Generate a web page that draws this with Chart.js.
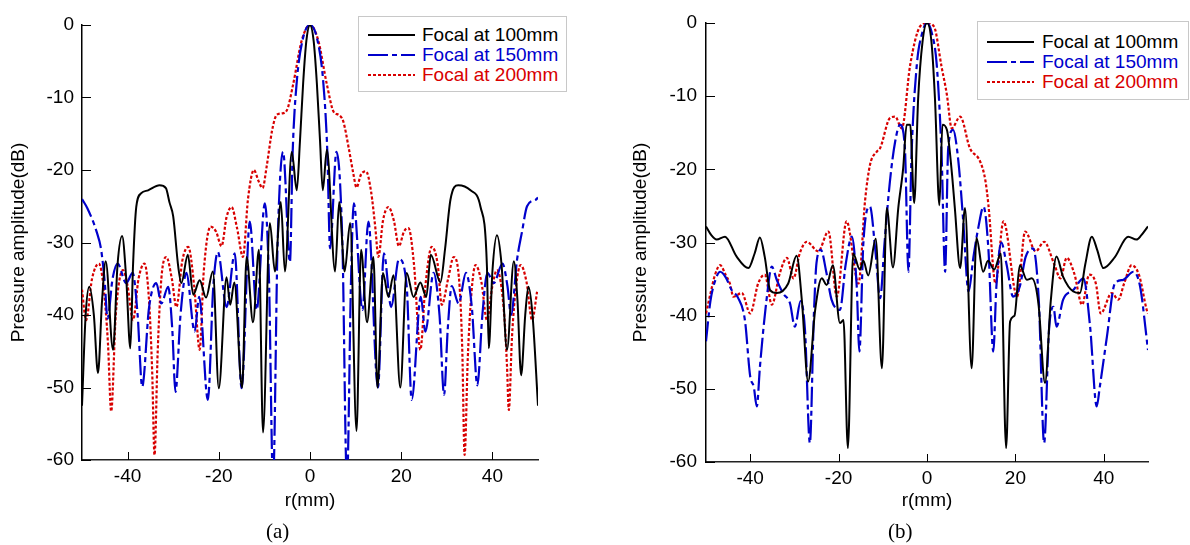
<!DOCTYPE html>
<html>
<head>
<meta charset="utf-8">
<script src="https://cdn.jsdelivr.net/npm/chart.js@4.4.0/dist/chart.umd.min.js"></script>
<style>
  body { margin:0; background:#fff; width:1190px; height:545px; overflow:hidden; position:relative; font-family:"Liberation Sans", Arial, sans-serif; }
  .panel { position:absolute; top:0; width:595px; height:545px; }
  .legend { position:absolute; border:1px solid #c8c8c8; background:#fff; box-sizing:border-box; }
  .row { position:absolute; height:20px; line-height:20px; font-size:19px; white-space:nowrap; }
  .row svg { position:absolute; top:7px; }
  .cap { position:absolute; font-family:"Liberation Serif", "DejaVu Serif", serif; font-size:21px; top:519px; }
</style>
</head>
<body>
<div class="panel" style="left:0"><canvas id="chartA" width="595" height="545"></canvas></div>
<div class="panel" style="left:595px"><canvas id="chartB" width="595" height="545"></canvas></div>
<div id="legA" class="legend" style="left:358px;top:16px;width:209px;height:76px"></div>
<div id="legB" class="legend" style="left:977px;top:21px;width:212px;height:79px"></div>
<div class="cap" style="left:266px">(a)</div>
<div class="cap" style="left:888px">(b)</div>
<script>
const seriesNames = ["Focal at 100mm", "Focal at 150mm", "Focal at 200mm"];
const xTicks = [-40, -20, 0, 20, 40];
const yTicks = [0, -10, -20, -30, -40, -50, -60];

// (a) focal 100mm
const aBlackX = [-50,-49.2,-48.4,-47.4,-46.5,-45.6,-44.8,-43.2,-42.2,-41.2,-40.3,-39.4,-38.8,-38.1,-37,-35.5,-33,-31.6,-30.8,-30,-28.9,-28.2,-26.8,-25.6,-24.2,-22.8,-21.3,-20,-18.3,-17.5,-16.6,-14.9,-13.9,-12.5,-11.2,-10.3,-8.8,-7.7,-6.4,-5.5,-4,-2.9,-2.2,-1.5,-0.8,0,
  0.8,1.5,2.2,2.8,3.7,5.5,6.4,7.6,8.8,10.2,11.2,12.5,13.9,14.8,16,17.2,18.3,19.8,21.2,22.7,24.2,25.5,26.5,28.6,29.6,30.8,32.5,35.2,37.4,38.8,39.2,40,41,42,43.2,44.7,45.5,46.3,47.2,47.9,48.8,50];
const aBlackY = [-52.5,-40,-36.1,-40,-48,-38,-32.6,-44.8,-33,-29.1,-35,-44.6,-33,-25.1,-23.2,-22.8,-22.1,-22.5,-24.5,-26.4,-33.3,-35.6,-31.7,-37.2,-35.2,-37.6,-34,-50.1,-34.8,-38.6,-35.5,-50,-32,-41,-31,-56.2,-27.3,-34,-24.4,-34,-17.5,-22.8,-16,-8,-2.2,0,
  -2.2,-8,-16,-22.8,-17.2,-34,-24.4,-34,-27.3,-56,-31,-41,-32,-50,-34.2,-37.5,-34.5,-50,-34.2,-37.5,-35.5,-37.5,-31.7,-35.5,-31,-24.1,-22.1,-22.8,-25.1,-33.3,-44.6,-34,-29,-33,-44.8,-32.6,-38,-48.3,-40,-36.1,-40,-52.5];

// (a) focal 150mm
const aBlueX = [-50,-48.8,-46.8,-45.8,-45,-44.4,-43.3,-42.2,-40.3,-38.9,-37.8,-36.8,-35.3,-33.7,-32.6,-31.1,-30.2,-29.5,-28.4,-27.1,-25.3,-24.3,-22.4,-21.2,-20.2,-18.3,-16.5,-15,-13.2,-11.7,-9.9,-9,-8.1,-7.1,-5.9,-4.4,-3.8,-2.9,-1.6,0,
  1.6,2.9,3.8,4.4,5.8,7.1,8.1,9,9.6,11.5,12.8,14.9,16.2,17.8,19.5,21.2,22.3,24.3,25.3,27.1,28.4,29.4,30.2,31.1,32.6,34.2,35.5,36.7,37.8,38.9,40.3,42.2,43.3,44.1,45.4,46.5,47.6,49.5,50];
const aBlueY = [-24,-25.3,-28.5,-31,-35.6,-40.5,-35,-32.9,-35.6,-34.2,-40,-49.9,-39,-35.6,-38.4,-36.1,-42,-50.6,-40,-34.2,-42.3,-37.5,-51.7,-36,-31.3,-38.9,-31.5,-50.1,-27.1,-39.3,-24.6,-35,-63,-30,-17.5,-32.7,-17.5,-7.8,-2,0,
  -2,-7.8,-17.5,-30.8,-17.5,-30,-63,-35,-24.6,-39.3,-27.1,-50,-31.5,-38.9,-32.3,-36,-51.7,-37.5,-42.3,-34.2,-40,-51,-42,-36,-38.4,-34.2,-39,-49.7,-40,-34.2,-35.6,-32.9,-36,-40,-32.4,-28.5,-25,-24.1,-23.8];

// (a) focal 200mm
const aRedX = [-50,-49.1,-47.8,-46.3,-45.3,-44.3,-43.6,-42.6,-41,-40,-38.8,-37.6,-36.3,-35.3,-34.6,-34.1,-33.4,-32.6,-31.5,-30.3,-29.3,-28,-26.7,-25.4,-24.2,-23.3,-21.8,-20.6,-19.4,-18.3,-17.2,-16,-14.7,-13.6,-12.3,-11.3,-10.4,-9.5,-8.3,-7.3,-6.2,-5.1,-3.7,-1.8,0,
  1.8,3.7,5.2,6.3,7.3,8.5,9.5,10.2,11.2,12.3,13.4,14.3,15,16,17.2,18.4,19.5,20.6,21.6,22.8,24.2,25.3,26.7,28,28.9,30.3,31.5,32.8,33.4,33.9,34.6,35.4,36.3,37.6,38.8,40,41,42.6,43.2,43.6,44.3,45.2,46.2,47.5,48.7,49.8];
const aRedY = [-36.5,-40.7,-35,-32.9,-36,-44,-53.3,-40,-33.8,-36,-40.7,-35,-32.9,-38,-48,-59.3,-45,-35,-32,-35,-38.9,-32.5,-30.6,-36,-44.8,-34,-27.8,-28.5,-30.5,-26.5,-25.1,-28,-32,-24,-20,-21.5,-22.5,-19.5,-14.5,-12.4,-12.2,-11.8,-8.2,-2.1,0,
  -2.1,-8.2,-12,-12.4,-13.3,-17,-20.5,-22.4,-20.6,-20.2,-23,-27.8,-32,-27,-25.1,-27,-30.5,-28.5,-28,-33,-44.8,-36,-30.6,-33,-38.6,-35,-32,-36,-45,-59.3,-46,-37,-33.1,-35.5,-40.7,-36,-33.8,-40,-47,-53.1,-43,-36,-33.1,-35.5,-40.7,-36.8];

// (b) focal 100mm
const bBlackX = [-50,-48.8,-47.6,-45.7,-43.1,-40.4,-39,-37.8,-36.7,-35.5,-34,-31.4,-29.5,-28.3,-26.9,-25.3,-23.8,-22.7,-21.3,-19.7,-18.9,-17.9,-16.7,-15.2,-14.4,-13.3,-11.6,-10.2,-9.1,-7.7,-6.5,-5.4,-4.6,-3.8,-2.9,-2,-1,0,
  1,1.8,2.8,3.5,4.5,5.6,6.3,7.5,8.6,10.1,11.2,12.7,13.8,15.2,16.7,17.9,18.8,19.8,21,22.6,23.7,25.2,26.7,28,29.3,30.8,33.1,34.6,35.8,37.3,38.5,39.9,42.5,45.5,47.4,48.5,50];
const bBlackY = [-27.8,-29,-29.6,-29.2,-31.9,-33.5,-31.5,-29.3,-32,-36.5,-36.9,-35.6,-31.8,-38,-49,-39.2,-34.9,-35.8,-33.1,-41,-40.6,-58.1,-31.5,-33.7,-32.5,-34.5,-29.5,-47.2,-25.3,-33.4,-25.3,-19.9,-13.9,-13.9,-24.6,-10.3,-2.5,0,
  -2.5,-10.3,-24.9,-13.9,-14.6,-20.3,-25.3,-33.5,-25.3,-47.2,-29.4,-34,-32.5,-33.7,-31.5,-58.1,-40.8,-40,-33.1,-35.1,-34.9,-38.3,-49.2,-38,-31.9,-34.7,-36.7,-36.9,-33,-29.2,-31,-33.5,-32,-29.2,-29.6,-29,-27.8];

// (b) focal 150mm
const bBlueX = [-50,-49,-47.8,-46.8,-45.5,-44.2,-42.8,-41.2,-40,-39.2,-38.5,-37.8,-36.3,-35.1,-34,-32.5,-31,-29.9,-28.6,-27.6,-26.5,-25.6,-25,-24,-22.8,-21.6,-19.7,-18.4,-17,-15.9,-15.3,-14.4,-12.9,-11.7,-10.6,-9.6,-8.4,-7.2,-6.1,-5,-4.2,-3.5,-2.3,-1.1,0,
  1.1,2.2,3.3,4.1,4.8,5.9,7.1,8.2,9.4,10.5,11.6,12.8,13.9,15,15.7,16.8,18,19.5,21,22.3,24,25.3,26.5,27.6,28.6,29.3,30.8,33.1,35.4,36.9,38.4,39.1,40.7,42.5,44.4,46.7,48.2,50];
const bBlueY = [-43.5,-38,-35,-34,-34.8,-36.5,-37.5,-40.6,-48.3,-49.7,-52.4,-47,-37.8,-33.3,-35.1,-37,-38.3,-41.5,-38,-42,-57.4,-40,-32.8,-31,-34,-37.8,-39.2,-33,-29.2,-36,-44.9,-30.1,-25.1,-31,-37.6,-30,-21.7,-16.2,-13.9,-17.1,-34,-18,-5.7,-1.4,0,
  -1.4,-5.7,-18,-34,-17.1,-14.6,-18.9,-27.1,-36.7,-32,-28,-25.1,-31,-44.9,-36,-30,-33,-37.4,-36,-32,-30.8,-38,-57.4,-42,-38.8,-41.5,-37.8,-36.5,-34.9,-41.5,-52.4,-49.7,-42.9,-35.6,-35.1,-34,-36,-44.7];

// (b) focal 200mm
const bRedX = [-50,-49,-48,-46.8,-45.5,-44.6,-43.8,-41.9,-40,-38.2,-36.7,-35.1,-33.3,-31.7,-30.2,-28.8,-27.2,-24.6,-22.3,-20.4,-18.2,-15.5,-14,-12.9,-11.4,-10.6,-8.4,-7.2,-5.7,-3.8,-1.6,0,
  1.6,3.3,4.5,5.6,7.5,9.7,12,13.2,13.9,15.5,17.3,20.4,22.2,24.6,26.5,28.8,30.2,31.6,33.3,35.1,36.7,38.2,39.3,41.8,43.3,44.6,46.3,48,49.7,50];
const bRedY = [-39.7,-37,-34.5,-33.1,-34.5,-35.6,-37.4,-36.9,-39.7,-35.6,-34.4,-38.5,-34.2,-32.1,-34.9,-31.5,-29.9,-31.2,-28.5,-37.4,-27.1,-35.6,-24.2,-19.4,-17.6,-17.1,-13,-12.8,-14.4,-5.7,-0.5,0,
  -0.5,-6,-9.8,-14.4,-12.8,-17.1,-18.9,-21.5,-24.9,-35.6,-27.1,-37.4,-28.5,-31.2,-29.9,-33,-34.9,-32.1,-34.2,-38.5,-34.4,-35.6,-39.7,-36.9,-37.8,-35.6,-33.1,-34.5,-39.2,-39.7];

const colors = ["#000000", "#0000cc", "#d80000"];
const dashes = [[], [20, 4, 5, 4], [3, 2]];
const widths = [2, 2.2, 2.2];
const FONT = "'Liberation Sans', Arial, sans-serif";

function pts(xs, ys) {
  return xs.map((x, i) => ({x: x, y: ys[i]}));
}

function makeSets(series) {
  return series.map((s, i) => ({
    label: seriesNames[i],
    data: pts(s[0], s[1]),
    borderColor: colors[i],
    borderWidth: widths[i],
    borderDash: dashes[i],
    pointRadius: 0,
    fill: false,
    cubicInterpolationMode: 'monotone'
  }));
}

// ticks point into the plot, like the original figure
const innerTicks = {
  id: 'innerTicks',
  afterDraw(chart) {
    const {ctx, chartArea: a, scales: {x, y}} = chart;
    ctx.save();
    ctx.strokeStyle = '#000';
    ctx.lineWidth = 1;
    ctx.beginPath();
    x.ticks.forEach(t => {
      const px = Math.round(x.getPixelForValue(t.value)) + 0.5;
      ctx.moveTo(px, a.bottom);
      ctx.lineTo(px, a.bottom - 8);
    });
    y.ticks.forEach(t => {
      const py = Math.round(y.getPixelForValue(t.value)) + 0.5;
      ctx.moveTo(a.left, py);
      ctx.lineTo(a.left + 9, py);
    });
    ctx.stroke();
    ctx.restore();
  }
};

function makeChart(id, series, g) {
  new Chart(document.getElementById(id), {
    type: 'line',
    data: {datasets: makeSets(series)},
    plugins: [innerTicks],
    options: {
      responsive: false,
      animation: false,
      devicePixelRatio: 1,
      layout: {padding: {top: g.top, right: g.right, left: 0, bottom: 0}},
      plugins: {legend: {display: false}, tooltip: {enabled: false}},
      scales: {
        x: {
          type: 'linear', min: -50, max: 50,
          afterBuildTicks: s => { s.ticks = xTicks.map(v => ({value: v})); },
          afterFit: s => { s.height = g.xh; },
          grid: {display: false, drawTicks: false},
          border: {display: true, color: '#222', width: 1.5},
          ticks: {padding: 5, color: '#000', font: {family: FONT, size: 19}, callback: v => String(v)},
          title: {display: true, text: 'r(mm)', color: '#000', font: {family: FONT, size: 19}, padding: {top: 0, bottom: 33}}
        },
        y: {
          type: 'linear', min: -60, max: 0,
          afterBuildTicks: s => { s.ticks = yTicks.map(v => ({value: v})); },
          afterFit: s => { s.width = g.yw; },
          grid: {display: false, drawTicks: false},
          border: {display: true, color: '#000', width: 1.5},
          ticks: {padding: g.tp, color: '#000', font: {family: FONT, size: 19}, callback: v => String(v)},
          title: {display: true, text: 'Pressure amplitude(dB)', color: '#000', font: {family: FONT, size: 19}, padding: {top: g.yt, bottom: 0}}
        }
      }
    }
  });
}

makeChart('chartA', [[aBlackX, aBlackY], [aBlueX, aBlueY], [aRedX, aRedY]],
  {top: 25, right: 57, xh: 85, yw: 82, tp: 8, yt: 7});
makeChart('chartB', [[bBlackX, bBlackY], [bBlueX, bBlueY], [bRedX, bRedY]],
  {top: 23, right: 42, xh: 83, yw: 111, tp: 9, yt: 34});

function buildLegend(id, sampleLeft, textLeft, rowTops) {
  const box = document.getElementById(id);
  seriesNames.forEach((name, i) => {
    const row = document.createElement('div');
    row.className = 'row';
    row.style.left = '0px';
    row.style.top = rowTops[i] + 'px';
    row.innerHTML = `<svg width="47" height="6" style="left:${sampleLeft}px"><line x1="0" y1="3" x2="47" y2="3" stroke="${colors[i]}" stroke-width="${widths[i]}" stroke-dasharray="${dashes[i].join(',')}"/></svg>` +
      `<span style="position:absolute;left:${textLeft}px;color:${colors[i]}">${name}</span>`;
    box.appendChild(row);
  });
}
buildLegend('legA', 9, 63, [8, 28, 48]);
buildLegend('legB', 9, 64, [10, 30, 50]);
</script>
</body>
</html>
